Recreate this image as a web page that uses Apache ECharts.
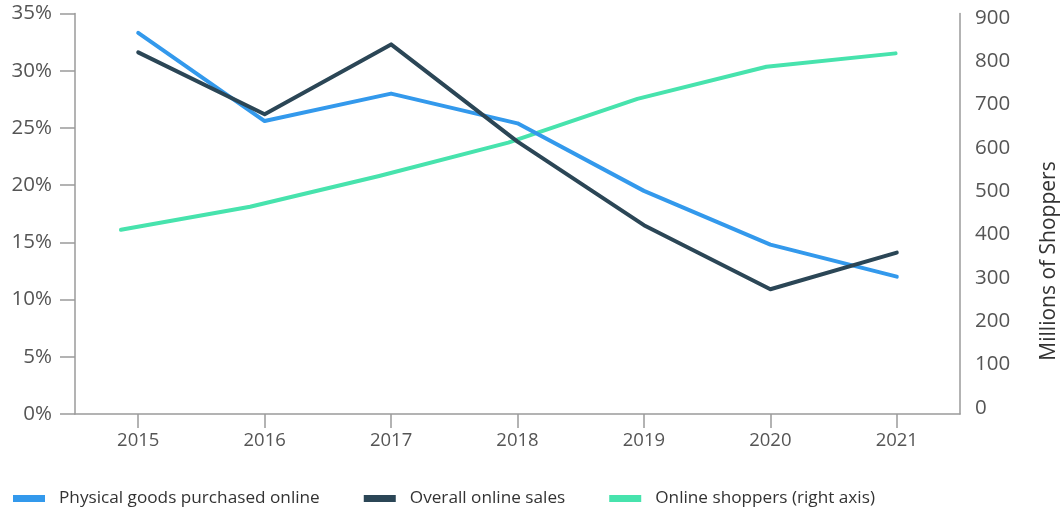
<!DOCTYPE html>
<html>
<head>
<meta charset="utf-8">
<script src="https://cdn.jsdelivr.net/npm/echarts@6/dist/echarts.min.js"></script>
<style>
  html, body { margin: 0; padding: 0; background: #ffffff; }
  #chart { width: 1063px; height: 512px; }
</style>
</head>
<body>
<div id="chart"></div>
<script>
// Years on the category axis
const years = ['2015', '2016', '2017', '2018', '2019', '2020', '2021'];

// Share of growth (percent, left axis)
const physicalGoods = [33.3, 25.6, 28.0, 25.4, 19.5, 14.8, 12.0];
const overallSales = [31.6, 26.2, 32.3, 23.8, 16.5, 10.9, 14.1];

// Online shoppers in millions (right axis)
const onlineShoppers = [411, 464, 535, 612, 713, 787, 818];

// Tick labels
const leftTicks = [0, 5, 10, 15, 20, 25, 30, 35];
const rightTicks = [0, 100, 200, 300, 400, 500, 600, 700, 800, 900];

const seriesNames = ['Physical goods purchased online', 'Overall online sales', 'Online shoppers (right axis)'];
const colors = ['#3399ec', '#2b4656', '#47e3ad'];

const axisGrey = '#9a9a9a';
const labelGrey = '#555555';
const fontFamily = '"Open Sans", "Noto Sans", sans-serif';

const chart = echarts.init(document.getElementById('chart'), null, { renderer: 'canvas' });

const lineStyle = (c) => ({ color: c, width: 4, cap: 'round', join: 'round' });

chart.setOption({
  animation: false,
  textStyle: { fontFamily: fontFamily },
  grid: { left: 75, right: 103, top: 13.5, bottom: 98, containLabel: false },
  legend: {
    data: seriesNames,
    left: 13,
    top: 490,
    padding: 0,
    icon: 'rect',
    itemWidth: 32,
    itemHeight: 7,
    itemGap: 44,
    textStyle: { fontSize: 17.2, color: '#333333', fontFamily: fontFamily, padding: [0, 0, 0, 9] }
  },
  xAxis: [
    {
      type: 'category',
      data: years,
      boundaryGap: true,
      axisLine: { onZero: false, lineStyle: { color: axisGrey, width: 1.5 } },
      axisTick: { show: true, alignWithLabel: true, length: 14, lineStyle: { color: axisGrey, width: 1.5 } },
      axisLabel: { fontSize: 18.5, color: labelGrey, margin: 17, fontFamily: fontFamily },
      splitLine: { show: false }
    },
    {
      // hidden index scale for the shopper line
      type: 'value',
      min: -0.356,
      max: 6.499,
      show: false,
      position: 'bottom',
      axisLine: { onZero: false }
    }
  ],
  yAxis: [
    {
      type: 'value',
      min: 0,
      max: 35,
      interval: 5,
      position: 'left',
      axisLine: { show: true, onZero: false, lineStyle: { color: axisGrey, width: 1.5 } },
      axisTick: { show: true, length: 15, lineStyle: { color: axisGrey, width: 1.5 } },
      axisLabel: {
        fontSize: 20.5, color: labelGrey, margin: 23, fontFamily: fontFamily,
        customValues: leftTicks,
        formatter: (v) => v + '%'
      },
      splitLine: { show: false }
    },
    {
      type: 'value',
      min: -14,
      max: 910,
      position: 'right',
      axisLine: { show: true, onZero: false, lineStyle: { color: axisGrey, width: 1.5 } },
      axisTick: { show: false },
      axisLabel: {
        fontSize: 20.5, color: labelGrey, margin: 15, fontFamily: fontFamily,
        customValues: rightTicks
      },
      splitLine: { show: false }
    }
  ],
  graphic: [
    {
      type: 'text',
      x: 1049,
      y: 261,
      rotation: Math.PI / 2,
      style: {
        text: 'Millions of Shoppers',
        fontSize: 21,
        fontFamily: fontFamily,
        fill: '#333333',
        align: 'center',
        verticalAlign: 'middle'
      }
    }
  ],
  series: [
    {
      name: seriesNames[0],
      type: 'line',
      xAxisIndex: 0,
      yAxisIndex: 0,
      data: physicalGoods,
      showSymbol: false,
      symbol: 'none',
      color: colors[0],
      lineStyle: lineStyle(colors[0]),
      z: 3
    },
    {
      name: seriesNames[1],
      type: 'line',
      xAxisIndex: 0,
      yAxisIndex: 0,
      data: overallSales,
      showSymbol: false,
      symbol: 'none',
      color: colors[1],
      lineStyle: lineStyle(colors[1]),
      z: 4
    },
    {
      name: seriesNames[2],
      type: 'line',
      xAxisIndex: 1,
      yAxisIndex: 1,
      data: onlineShoppers.map((v, i) => [i, v]),
      showSymbol: false,
      symbol: 'none',
      color: colors[2],
      lineStyle: lineStyle(colors[2]),
      z: 2
    }
  ]
});
</script>
</body>
</html>
